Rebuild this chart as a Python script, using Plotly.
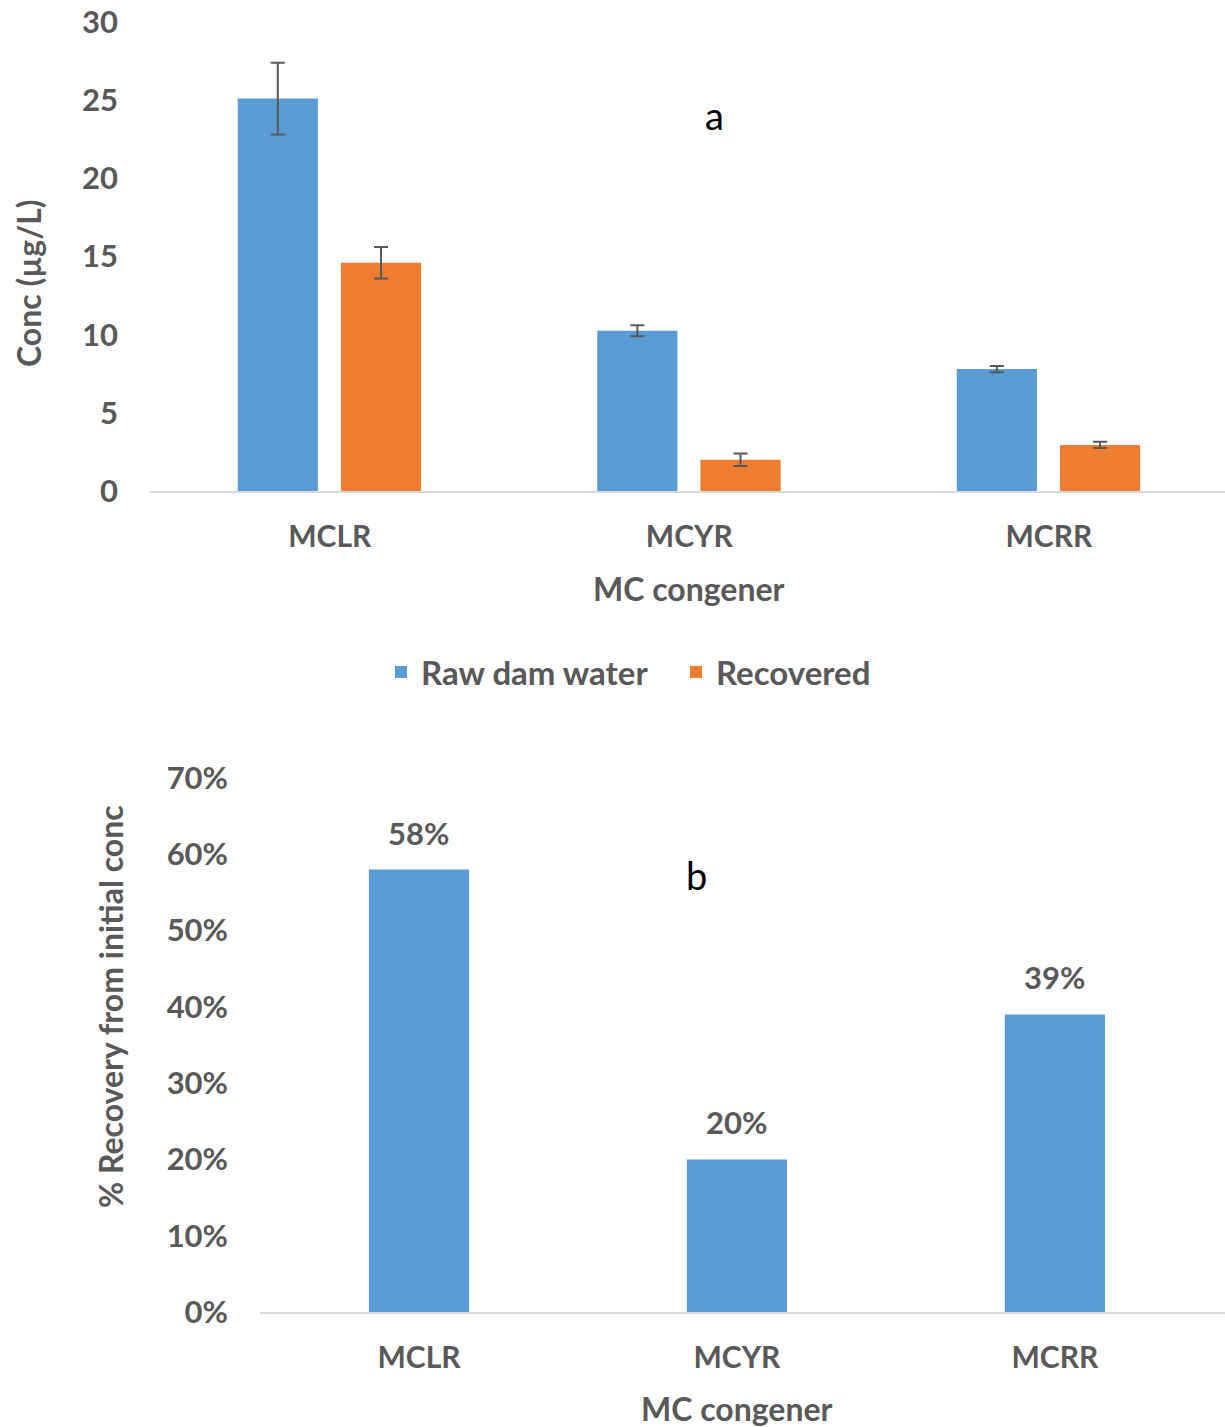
import plotly.graph_objects as go

# MC congener concentrations (µg/L) and recovery
congeners = ["MCLR", "MCYR", "MCRR"]
raw_conc = [25.1, 10.25, 7.8]
raw_err = [2.3, 0.35, 0.2]
recovered_conc = [14.6, 2.0, 2.95]
recovered_err = [1.0, 0.4, 0.2]
recovery_pct = [0.58, 0.20, 0.39]
recovery_labels = ["58%", "20%", "39%"]

W, H = 1225, 1427
BLUE = "#5B9BD5"
ORANGE = "#ED7D31"
GREY = "#595959"
FONT = "Lato"


def py(px):
    """Convert a pixel row (from top) to paper fraction."""
    return 1 - px / H


def px_(px):
    return px / W


fig = go.Figure()

err_style = dict(type="data", color=GREY, thickness=2, width=7)

fig.add_trace(go.Bar(
    x=congeners, y=raw_conc, name="Raw dam water",
    marker=dict(color=BLUE, line=dict(width=0)),
    error_y=dict(array=raw_err, **err_style),
    width=0.223, offset=-0.256,
    xaxis="x", yaxis="y",
))
fig.add_trace(go.Bar(
    x=congeners, y=recovered_conc, name="Recovered",
    marker=dict(color=ORANGE, line=dict(width=0)),
    error_y=dict(array=recovered_err, **err_style),
    width=0.223, offset=0.031,
    xaxis="x", yaxis="y",
))
fig.add_trace(go.Bar(
    x=congeners, y=recovery_pct, name="Recovery",
    marker=dict(color=BLUE, line=dict(width=0)),
    width=0.315, showlegend=False,
    xaxis="x2", yaxis="y2",
))

# value labels above the recovery bars
for c, v, t in zip(congeners, recovery_pct, recovery_labels):
    fig.add_annotation(
        x=c, y=v, xref="x2", yref="y2", text=t, showarrow=False,
        xanchor="center", yanchor="bottom", yshift=16,
        font=dict(family=FONT, size=31, color=GREY, weight="bold"),
    )

ytick_font = dict(family=FONT, size=31, color=GREY, weight="bold")
xtick_font = dict(family=FONT, size=30, color=GREY, weight="bold")
title_font = dict(family=FONT, size=32, color=GREY, weight="bold")

axis_common = dict(showgrid=False, zeroline=False, ticks="", automargin=False)

fig.update_layout(
    width=W, height=H,
    margin=dict(l=0, r=0, t=0, b=0, autoexpand=False),
    paper_bgcolor="white", plot_bgcolor="white",
    barmode="group",
    font=dict(family=FONT, color=GREY),
    xaxis=dict(
        domain=[px_(150), 1], range=[-0.5, 2.49], anchor="y",
        showline=True, linecolor="#D9D9D9", linewidth=2,
        tickfont=xtick_font, ticklabelstandoff=18, **axis_common,
    ),
    yaxis=dict(
        domain=[py(491), py(22)], range=[0, 30], anchor="x",
        tickvals=[0, 5, 10, 15, 20, 25, 30], tickfont=ytick_font,
        showline=False, ticklabelstandoff=31, **axis_common,
    ),
    xaxis2=dict(
        domain=[px_(260), 1], range=[-0.5, 2.535], anchor="y2",
        showline=True, linecolor="#D9D9D9", linewidth=2,
        tickfont=xtick_font, ticklabelstandoff=18, **axis_common,
    ),
    yaxis2=dict(
        domain=[py(1312), py(778)], range=[0, 0.70], anchor="x2",
        tickvals=[0, 0.1, 0.2, 0.3, 0.4, 0.5, 0.6, 0.7],
        tickformat=".0%", tickfont=ytick_font,
        showline=False, ticklabelstandoff=31, **axis_common,
    ),
    legend=dict(
        orientation="h", x=px_(381), xanchor="left",
        y=py(672), yanchor="middle",
        font=dict(family=FONT, size=33, color=GREY, weight="bold"),
        itemwidth=30, entrywidth=250, entrywidthmode="pixels",
    ),
    showlegend=True,
)

# axis titles and panel letters
def label(x, y, text, font, angle=0):
    fig.add_annotation(x=px_(x), y=py(y), xref="paper", yref="paper",
                       xanchor="center", yanchor="middle",
                       text=text, textangle=angle, showarrow=False, font=font)


label(689, 588, "MC congener", title_font)
label(737, 1408, "MC congener", title_font)
label(28, 283, "Conc (µg/L)", title_font, -90)
label(110, 1007, "% Recovery from initial conc", title_font, -90)
label(714, 115, "a", dict(family=FONT, size=38, color="black"))
label(696, 875, "b", dict(family=FONT, size=38, color="black"))

fig.write_html("out.html")
